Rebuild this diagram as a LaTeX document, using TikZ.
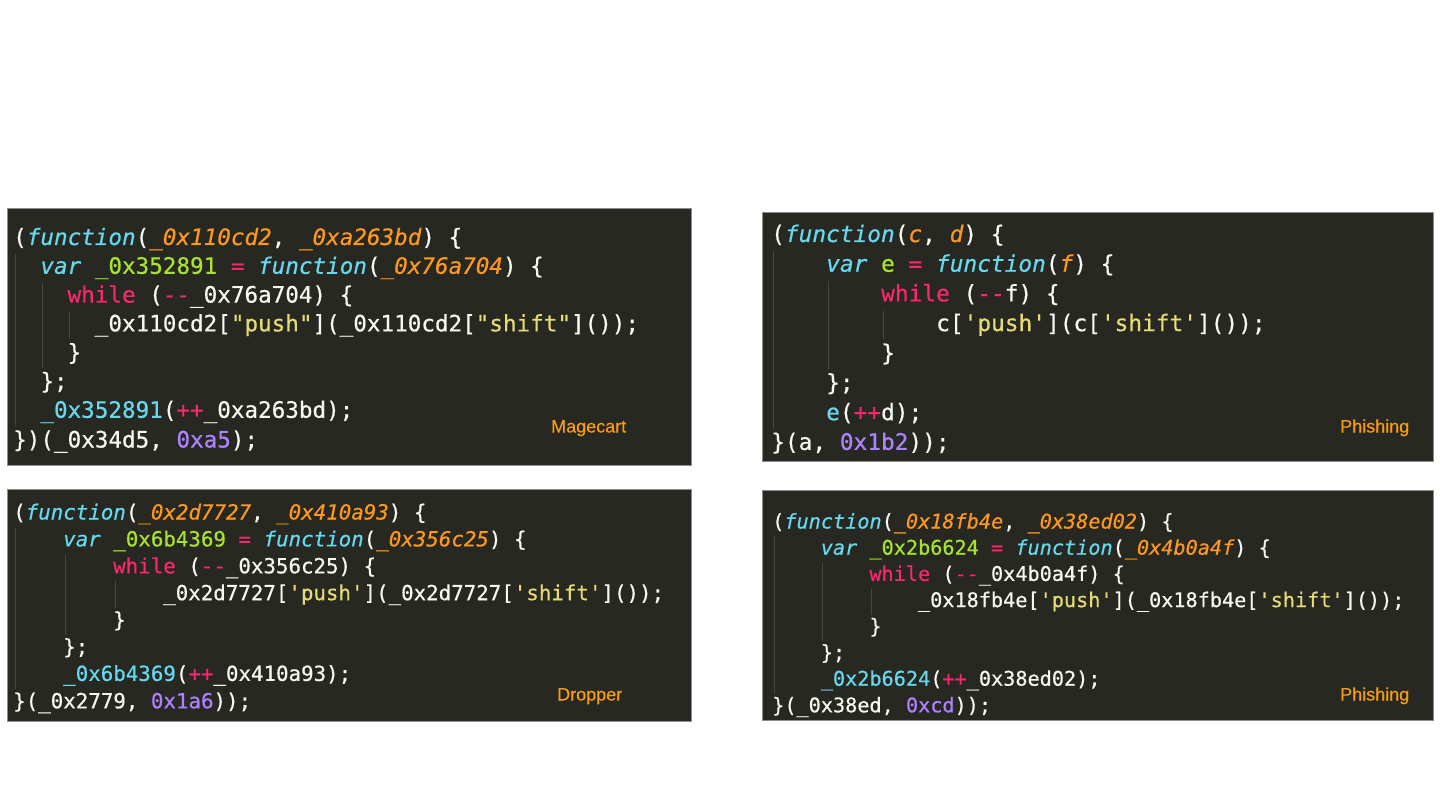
\documentclass[tikz,border=0pt]{standalone}
\usepackage{fontspec}
\newfontfamily\codefont{DejaVu Sans Mono}[Ligatures=TeXOff,FakeBold=0.5]
\newfontfamily\labfont{Liberation Sans}[FakeBold=0.3]
\definecolor{jsbg}{HTML}{272822}
\definecolor{jswhite}{HTML}{F8F8F2}
\definecolor{jspink}{HTML}{F92672}
\definecolor{jscyan}{HTML}{66D9EF}
\definecolor{jsorange}{HTML}{FD971F}
\definecolor{jsgreen}{HTML}{A6E22E}
\definecolor{jsyellow}{HTML}{E6DB74}
\definecolor{jspurple}{HTML}{AE81FF}
\definecolor{jsguide}{HTML}{46473F}
\definecolor{labcol}{HTML}{F89C14}
\definecolor{panelborder}{HTML}{8E8E8A}
\newcommand\jsK[1]{\textcolor{jspink}{#1}}
\newcommand\jsF[1]{\textcolor{jscyan}{\itshape #1}}
\newcommand\jsP[1]{\textcolor{jsorange}{\itshape #1}}
\newcommand\jsG[1]{\textcolor{jsgreen}{#1}}
\newcommand\jsS[1]{\textcolor{jsyellow}{#1}}
\newcommand\jsN[1]{\textcolor{jspurple}{#1}}
\newcommand\jsC[1]{\textcolor{jscyan}{#1}}
\tikzset{
  panel/.style={fill=jsbg, draw=panelborder, line width=0.6pt},
  codeline/.style={anchor=base west, inner sep=0pt, text=jswhite},
  codeA/.style={codeline, font=\codefont\fontsize{22.6}{28}\selectfont},
  codeB/.style={codeline, font=\codefont\fontsize{22.8}{28}\selectfont},
  codeC/.style={codeline, font=\codefont\fontsize{20.8}{26}\selectfont},
  codeD/.style={codeline, font=\codefont\fontsize{20.2}{25}\selectfont},
  guide/.style={draw=jsguide, line width=1pt},
  lab/.style={anchor=base west, inner sep=0pt, text=labcol, font=\labfont\fontsize{18}{20}\selectfont}
}
\begin{document}
\begin{tikzpicture}[x=1pt,y=-1pt]
\useasboundingbox (0,0) rectangle (1440,810);
\fill[white] (0,0) rectangle (1440,810);
% panels
\draw[panel] (7,208) rectangle (691,465);
\draw[panel] (762,212) rectangle (1433,461);
\draw[panel] (7,489) rectangle (691,721);
\draw[panel] (762,490) rectangle (1433,720);
% guides panel 1
\draw[guide] (15,253.8) -- (15,425.8);
\draw[guide] (42.2,282.6) -- (42.2,368);
\draw[guide] (69.4,311.4) -- (69.4,339.4);
% guides panel 2
\draw[guide] (773,251) -- (773,429);
\draw[guide] (828,280.8) -- (828,369.7);
\draw[guide] (883,310.5) -- (883,340);
% guides panel 3
\draw[guide] (15,527.6) -- (15,688.9);
\draw[guide] (65,554.5) -- (65,635);
\draw[guide] (115,581.4) -- (115,608.2);
% guides panel 4
\draw[guide] (774,536.4) -- (774,693.6);
\draw[guide] (822.6,562.6) -- (822.6,641.2);
\draw[guide] (871.2,588.8) -- (871.2,615);
% panel 1: Magecart
\node[codeA] (a1) at (13,245) {(\jsF{function}(\jsP{\_0x110cd2}, \jsP{\_0xa263bd}) \{};
\node[codeA] (a2) at (40.2,273.8) {\jsF{var} \jsG{\_0x352891} \jsK{=} \jsF{function}(\jsP{\_0x76a704}) \{};
\node[codeA] (a3) at (67.4,302.6) {\jsK{while} (\jsK{--}\_0x76a704) \{};
\node[codeA] (a4) at (94.6,331.4) {\_0x110cd2[\jsS{"push"}](\_0x110cd2[\jsS{"shift"}]());};
\node[codeA] (a5) at (67.4,360.2) {\}};
\node[codeA] (a6) at (40.2,389) {\};};
\node[codeA] (a7) at (40.2,417.8) {\jsC{\_0x352891}(\jsK{++}\_0xa263bd);};
\node[codeA] (a8) at (13,447.5) {\})(\_0x34d5, \jsN{0xa5});};
\node[lab] (la) at (551,432.5) {Magecart};
% panel 2: Phishing
\node[codeB] (b1) at (771,242) {(\jsF{function}(\jsP{c}, \jsP{d}) \{};
\node[codeB] (b2) at (826,271.7) {\jsF{var} \jsG{e} \jsK{=} \jsF{function}(\jsP{f}) \{};
\node[codeB] (b3) at (881,301.4) {\jsK{while} (\jsK{--}f) \{};
\node[codeB] (b4) at (936,331.1) {c[\jsS{'push'}](c[\jsS{'shift'}]());};
\node[codeB] (b5) at (881,360.8) {\}};
\node[codeB] (b6) at (826,390.5) {\};};
\node[codeB] (b7) at (826,420.2) {\jsC{e}(\jsK{++}d);};
\node[codeB] (b8) at (771,449.9) {\}(a, \jsN{0x1b2}));};
\node[lab] (lb) at (1340,432.5) {Phishing};
% panel 3: Dropper
\node[codeC] (c1) at (13,519.5) {(\jsF{function}(\jsP{\_0x2d7727}, \jsP{\_0x410a93}) \{};
\node[codeC] (c2) at (63,546.4) {\jsF{var} \jsG{\_0x6b4369} \jsK{=} \jsF{function}(\jsP{\_0x356c25}) \{};
\node[codeC] (c3) at (113,573.3) {\jsK{while} (\jsK{--}\_0x356c25) \{};
\node[codeC] (c4) at (163,600.2) {\_0x2d7727[\jsS{'push'}](\_0x2d7727[\jsS{'shift'}]());};
\node[codeC] (c5) at (113,627.1) {\}};
\node[codeC] (c6) at (63,654) {\};};
\node[codeC] (c7) at (63,680.9) {\jsC{\_0x6b4369}(\jsK{++}\_0x410a93);};
\node[codeC] (c8) at (13,708.3) {\}(\_0x2779, \jsN{0x1a6}));};
\node[lab] (lc) at (557,700.5) {Dropper};
% panel 4: Phishing
\node[codeD] (d1) at (772,528.5) {(\jsF{function}(\jsP{\_0x18fb4e}, \jsP{\_0x38ed02}) \{};
\node[codeD] (d2) at (820.6,554.7) {\jsF{var} \jsG{\_0x2b6624} \jsK{=} \jsF{function}(\jsP{\_0x4b0a4f}) \{};
\node[codeD] (d3) at (869.2,580.9) {\jsK{while} (\jsK{--}\_0x4b0a4f) \{};
\node[codeD] (d4) at (917.8,607.1) {\_0x18fb4e[\jsS{'push'}](\_0x18fb4e[\jsS{'shift'}]());};
\node[codeD] (d5) at (869.2,633.3) {\}};
\node[codeD] (d6) at (820.6,659.5) {\};};
\node[codeD] (d7) at (820.6,685.7) {\jsC{\_0x2b6624}(\jsK{++}\_0x38ed02);};
\node[codeD] (d8) at (772,712.3) {\}(\_0x38ed, \jsN{0xcd}));};
\node[lab] (ld) at (1340,700.5) {Phishing};
\end{tikzpicture}
\end{document}
